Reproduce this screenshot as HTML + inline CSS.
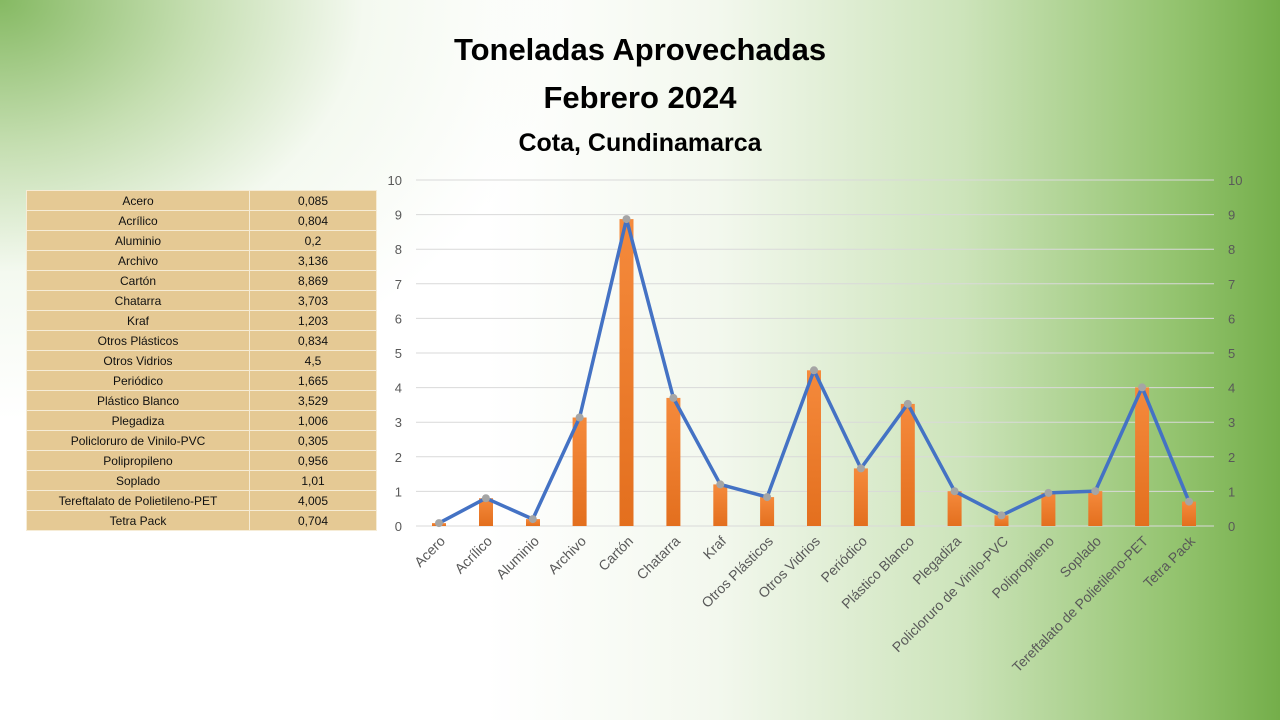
<!DOCTYPE html>
<html><head><meta charset="utf-8"><style>
html,body{margin:0;padding:0}
body{width:1280px;height:720px;overflow:hidden;position:relative;font-family:"Liberation Sans",sans-serif;
background:
radial-gradient(ellipse 560px 420px at 0 0, rgba(112,173,71,0.85) 0%, rgba(140,190,100,0.5) 35%, rgba(200,225,180,0.2) 65%, rgba(255,255,255,0) 100%),
linear-gradient(to right, #ffffff 0%, #ffffff 38%, #f3f8ee 56%, #cde4bb 75%, #93c36e 92%, #74ae4a 100%);}
.t{position:absolute;left:0;width:1280px;text-align:center;font-weight:bold;color:#000}
table{position:absolute;left:26px;top:190px;border-collapse:collapse;background:#e5c994;font-size:12px;color:#111}
td{border:1px solid #f6ecd6;height:19px;padding:0;text-align:center}
td.a{width:222px}td.b{width:126px}
</style></head><body>
<div class="t" style="top:32px;font-size:31px">Toneladas Aprovechadas</div>
<div class="t" style="top:80px;font-size:31px">Febrero 2024</div>
<div class="t" style="top:129px;font-size:25px">Cota, Cundinamarca</div>
<table>
<tr><td class="a">Acero</td><td class="b">0,085</td></tr>
<tr><td class="a">Acrílico</td><td class="b">0,804</td></tr>
<tr><td class="a">Aluminio</td><td class="b">0,2</td></tr>
<tr><td class="a">Archivo</td><td class="b">3,136</td></tr>
<tr><td class="a">Cartón</td><td class="b">8,869</td></tr>
<tr><td class="a">Chatarra</td><td class="b">3,703</td></tr>
<tr><td class="a">Kraf</td><td class="b">1,203</td></tr>
<tr><td class="a">Otros Plásticos</td><td class="b">0,834</td></tr>
<tr><td class="a">Otros Vidrios</td><td class="b">4,5</td></tr>
<tr><td class="a">Periódico</td><td class="b">1,665</td></tr>
<tr><td class="a">Plástico Blanco</td><td class="b">3,529</td></tr>
<tr><td class="a">Plegadiza</td><td class="b">1,006</td></tr>
<tr><td class="a">Policloruro de Vinilo-PVC</td><td class="b">0,305</td></tr>
<tr><td class="a">Polipropileno</td><td class="b">0,956</td></tr>
<tr><td class="a">Soplado</td><td class="b">1,01</td></tr>
<tr><td class="a">Tereftalato de Polietileno-PET</td><td class="b">4,005</td></tr>
<tr><td class="a">Tetra Pack</td><td class="b">0,704</td></tr>
</table>
<svg width="1280" height="720" style="position:absolute;left:0;top:0" font-family="Liberation Sans, sans-serif">
<defs><linearGradient id="bg" x1="0" y1="0" x2="0" y2="1"><stop offset="0" stop-color="#f58a3c"/><stop offset="1" stop-color="#e36f1e"/></linearGradient></defs>
<g stroke="#d9d9d9" stroke-width="1">
<line x1="416" x2="1214" y1="180" y2="180"/><line x1="416" x2="1214" y1="214.6" y2="214.6"/>
<line x1="416" x2="1214" y1="249.2" y2="249.2"/><line x1="416" x2="1214" y1="283.8" y2="283.8"/>
<line x1="416" x2="1214" y1="318.4" y2="318.4"/><line x1="416" x2="1214" y1="353" y2="353"/>
<line x1="416" x2="1214" y1="387.6" y2="387.6"/><line x1="416" x2="1214" y1="422.2" y2="422.2"/>
<line x1="416" x2="1214" y1="456.8" y2="456.8"/><line x1="416" x2="1214" y1="491.4" y2="491.4"/>
<line x1="416" x2="1214" y1="526" y2="526"/>
</g>
<g font-size="13" fill="#595959">
<g text-anchor="end">
<text x="402" y="185">10</text><text x="402" y="219.6">9</text><text x="402" y="254.2">8</text><text x="402" y="288.8">7</text><text x="402" y="323.4">6</text><text x="402" y="358">5</text><text x="402" y="392.6">4</text><text x="402" y="427.2">3</text><text x="402" y="461.8">2</text><text x="402" y="496.4">1</text><text x="402" y="531">0</text>
</g>
<g text-anchor="start">
<text x="1228" y="185">10</text><text x="1228" y="219.6">9</text><text x="1228" y="254.2">8</text><text x="1228" y="288.8">7</text><text x="1228" y="323.4">6</text><text x="1228" y="358">5</text><text x="1228" y="392.6">4</text><text x="1228" y="427.2">3</text><text x="1228" y="461.8">2</text><text x="1228" y="496.4">1</text><text x="1228" y="531">0</text>
</g></g>
<g fill="url(#bg)">
<rect x="432" y="523.1" width="14" height="2.9"/><rect x="479" y="498.2" width="14" height="27.8"/>
<rect x="526" y="519.1" width="14" height="6.9"/><rect x="572.6" y="417.5" width="14" height="108.5"/>
<rect x="619.5" y="219.1" width="14" height="306.9"/><rect x="666.4" y="397.9" width="14" height="128.1"/>
<rect x="713.3" y="484.4" width="14" height="41.6"/><rect x="760.1" y="497.1" width="14" height="28.9"/>
<rect x="807" y="370.3" width="14" height="155.7"/><rect x="853.9" y="468.4" width="14" height="57.6"/>
<rect x="900.8" y="403.9" width="14" height="122.1"/><rect x="947.6" y="491.2" width="14" height="34.8"/>
<rect x="994.5" y="515.4" width="14" height="10.6"/><rect x="1041.4" y="492.9" width="14" height="33.1"/>
<rect x="1088.3" y="491.1" width="14" height="34.9"/><rect x="1135.1" y="387.4" width="14" height="138.6"/>
<rect x="1182" y="501.6" width="14" height="24.4"/>
</g>
<polyline fill="none" stroke="#4472c4" stroke-width="3.5" stroke-linejoin="round" points="439,523.1 485.9,498.2 532.8,519.1 579.6,417.5 626.5,219.1 673.4,397.9 720.3,484.4 767.1,497.1 814,370.3 860.9,468.4 907.8,403.9 954.6,491.2 1001.5,515.4 1048.4,492.9 1095.3,491.1 1142.1,387.4 1189,501.6"/>
<g fill="#a5a5a5">
<circle cx="439" cy="523.1" r="4"/><circle cx="485.9" cy="498.2" r="4"/><circle cx="532.8" cy="519.1" r="4"/><circle cx="579.6" cy="417.5" r="4"/><circle cx="626.5" cy="219.1" r="4"/><circle cx="673.4" cy="397.9" r="4"/><circle cx="720.3" cy="484.4" r="4"/><circle cx="767.1" cy="497.1" r="4"/><circle cx="814" cy="370.3" r="4"/><circle cx="860.9" cy="468.4" r="4"/><circle cx="907.8" cy="403.9" r="4"/><circle cx="954.6" cy="491.2" r="4"/><circle cx="1001.5" cy="515.4" r="4"/><circle cx="1048.4" cy="492.9" r="4"/><circle cx="1095.3" cy="491.1" r="4"/><circle cx="1142.1" cy="387.4" r="4"/><circle cx="1189" cy="501.6" r="4"/>
</g>
<g font-size="14" fill="#595959" text-anchor="end">
<text transform="translate(446,542) rotate(-45)">Acero</text>
<text transform="translate(493,542) rotate(-45)">Acrílico</text>
<text transform="translate(540,542) rotate(-45)">Aluminio</text>
<text transform="translate(587,542) rotate(-45)">Archivo</text>
<text transform="translate(634,542) rotate(-45)">Cartón</text>
<text transform="translate(681,542) rotate(-45)">Chatarra</text>
<text transform="translate(727,542) rotate(-45)">Kraf</text>
<text transform="translate(774,542) rotate(-45)">Otros Plásticos</text>
<text transform="translate(821,542) rotate(-45)">Otros Vidrios</text>
<text transform="translate(868,542) rotate(-45)">Periódico</text>
<text transform="translate(915,542) rotate(-45)">Plástico Blanco</text>
<text transform="translate(962,542) rotate(-45)">Plegadiza</text>
<text transform="translate(1009,542) rotate(-45)">Policloruro de Vinilo-PVC</text>
<text transform="translate(1055,542) rotate(-45)">Polipropileno</text>
<text transform="translate(1102,542) rotate(-45)">Soplado</text>
<text transform="translate(1149,542) rotate(-45)">Tereftalato de Polietileno-PET</text>
<text transform="translate(1196,542) rotate(-45)">Tetra Pack</text>
</g>
</svg>
</body></html>
